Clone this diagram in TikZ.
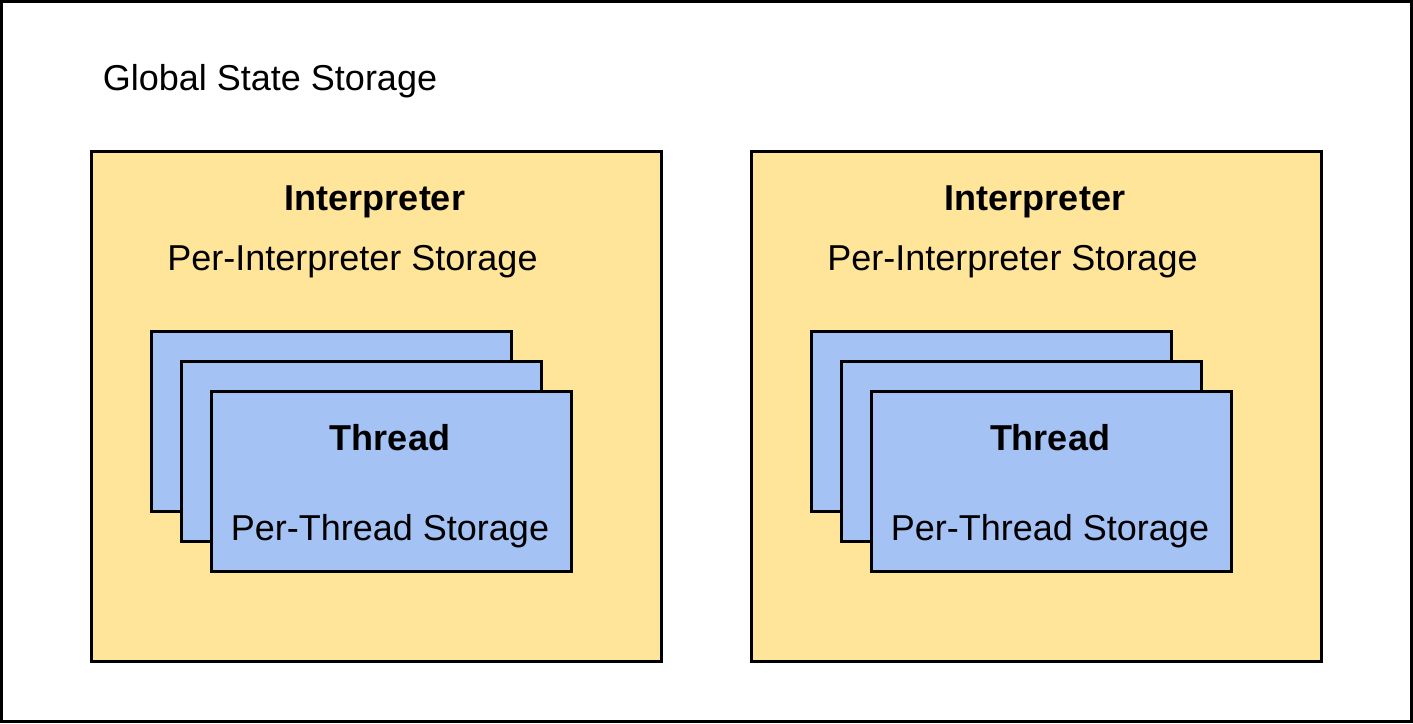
\documentclass[tikz,border=0pt]{standalone}
\usepackage{fontspec}
\setmainfont{Liberation Sans}
\definecolor{interp}{HTML}{FFE599}
\definecolor{thr}{HTML}{A4C2F4}
\begin{document}
\begin{tikzpicture}[x=1pt,y=-1pt,
  box/.style={draw=black,line width=3pt},
  ibox/.style={box,fill=interp},
  tbox/.style={box,fill=thr},
  lbl/.style={font=\fontsize{36}{40}\selectfont,inner sep=0pt,anchor=base},
  blbl/.style={lbl,font=\fontsize{36}{40}\selectfont\bfseries}]
\useasboundingbox (0,0) rectangle (1413,723);
\draw[box,fill=white] (1.5,1.5) rectangle (1411.5,721.5);
\node[lbl] (glob) at (270,90) {Global State Storage};
\foreach \dx/\n in {0/a,660/b}{
  \begin{scope}[xshift=\dx pt]
  \draw[ibox] (91.5,151.5) rectangle (661.5,661.5);
  \node[blbl] (interp\n) at (375,210) {Interpreter};
  \node[lbl] (pis\n) at (352.5,270) {Per-Interpreter Storage};
  \draw[tbox] (151.5,331.5) rectangle (511.5,511.5);
  \draw[tbox] (181.5,361.5) rectangle (541.5,541.5);
  \draw[tbox] (211.5,391.5) rectangle (571.5,571.5);
  \node[blbl] (thread\n) at (390,450) {Thread};
  \node[lbl] (pts\n) at (390,540) {Per-Thread Storage};
  \end{scope}
}
\end{tikzpicture}
\end{document}
